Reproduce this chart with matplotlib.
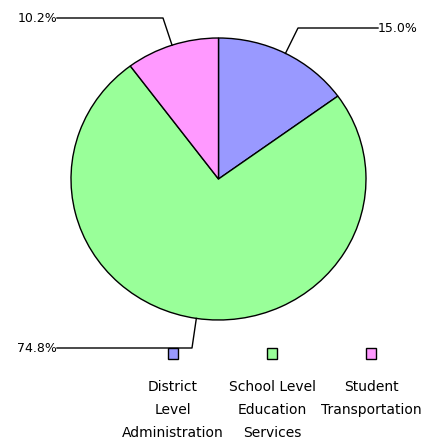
import numpy as np
import matplotlib
matplotlib.use("Agg")
import matplotlib.pyplot as plt

categories = ["District\nLevel\nAdministration", "School Level\nEducation\nServices", "Student\nTransportation"]
shares = [15.0, 74.8, 10.2]
labels = ["15.0%", "74.8%", "10.2%"]
colors = ["#9999ff", "#99ff99", "#ff99ff"]

W, H = 436, 441
fig = plt.figure(figsize=(W / 100, H / 100), dpi=100)

# pie is slightly stretched horizontally in the reference
cx, cy, rx, ry = 218.5, 179, 147.5, 141
pax = fig.add_axes([(cx - rx) / W, (H - cy - ry) / H, 2 * rx / W, 2 * ry / H])
wedges, _ = pax.pie(shares, colors=colors, startangle=90, counterclock=False,
                    radius=1, frame=True,
                    wedgeprops=dict(edgecolor="black", linewidth=1))
pax.set_aspect("auto")
pax.set_xlim(-1, 1)
pax.set_ylim(-1, 1)
pax.axis("off")

ax = fig.add_axes([0, 0, 1, 1])
ax.set_xlim(0, W)
ax.set_ylim(H, 0)
ax.axis("off")

# leader lines: elbow point and text end (px, top-left origin)
elbows = [(298, 28), (192, 348), (163, 18)]
ends = [(378, 28), (57, 348), (57, 18)]
for w, lab, (ex, ey), (tx, ty) in zip(wedges, labels, elbows, ends):
    mid = np.deg2rad((w.theta1 + w.theta2) / 2)
    px, py = cx + rx * np.cos(mid), cy - ry * np.sin(mid)
    ax.plot([px, ex, tx], [py, ey, ty], color="black", lw=1)
    if tx > ex:
        ax.text(tx, ty, lab, ha="left", va="center", fontsize=9)
    else:
        ax.text(tx, ty, lab, ha="right", va="center", fontsize=9)

# legend
leg_x = [173, 272, 371]
for x, c, name in zip(leg_x, colors, categories):
    ax.add_patch(plt.Rectangle((x - 5, 348), 10, 11, facecolor=c,
                               edgecolor="black", lw=1))
    ax.text(x, 380, name, ha="center", va="top", fontsize=10,
            linespacing=1.8)

fig.savefig("out.png", dpi=100)
